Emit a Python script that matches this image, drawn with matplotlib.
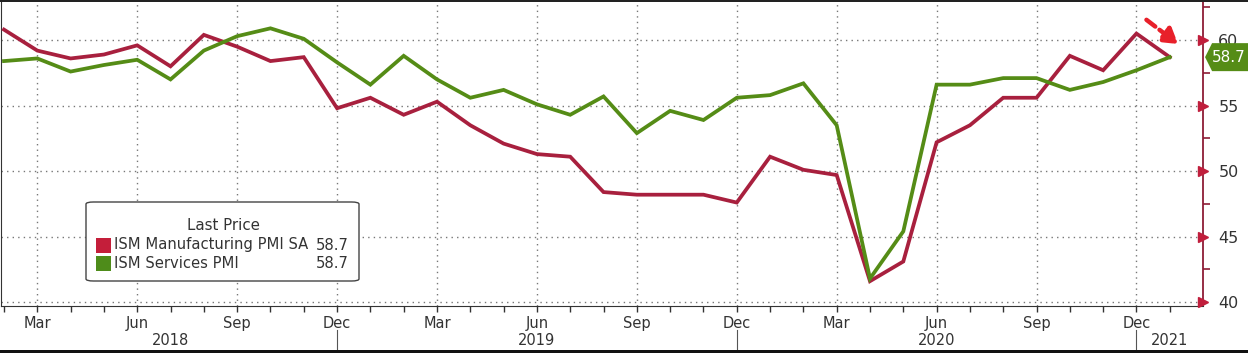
import matplotlib.pyplot as plt
import matplotlib.transforms as mtransforms
from matplotlib.patches import FancyBboxPatch, Rectangle, Polygon

# monthly data Feb 2018 .. Jan 2021
months = ["Feb", "Mar", "Apr", "May", "Jun", "Jul", "Aug", "Sep", "Oct", "Nov", "Dec", "Jan"] * 3
months = months[:36]
manufacturing = [60.8, 59.2, 58.6, 58.9, 59.6, 58.0, 60.4, 59.5, 58.4, 58.7, 54.8, 55.6,
                 54.3, 55.3, 53.5, 52.1, 51.3, 51.1, 48.4, 48.2, 48.2, 48.2, 47.6, 51.1,
                 50.1, 49.7, 41.6, 43.1, 52.2, 53.5, 55.6, 55.6, 58.8, 57.7, 60.5, 58.7]
services = [58.4, 58.6, 57.6, 58.1, 58.5, 57.0, 59.2, 60.3, 60.9, 60.1, 58.3, 56.6,
            58.8, 57.0, 55.6, 56.2, 55.1, 54.3, 55.7, 52.9, 54.6, 53.9, 55.6, 55.8,
            56.7, 53.5, 41.8, 45.4, 56.6, 56.6, 57.1, 57.1, 56.2, 56.8, 57.7, 58.7]
years = ["2018", "2019", "2020", "2021"]
year_label_pos = [5, 16, 28, 35]
year_breaks = [10, 22, 34]
yticks = [40, 45, 50, 55, 60]

red = "#A8203E"
green = "#558C16"
x = list(range(len(months)))

fig = plt.figure(figsize=(12.48, 3.53), dpi=100)
ax = fig.add_axes([0.0008, 0.133, 0.9632, 0.861])

ax.plot(x, manufacturing, color=red, lw=2.7, zorder=3, solid_joinstyle="miter")
ax.plot(x, services, color=green, lw=2.7, zorder=3, solid_joinstyle="miter")

ax.set_xlim(-0.09, 36.0)
ax.set_ylim(39.7, 62.9)

# x axis: monthly ticks, labels every quarter
lab_idx = [i for i, m in enumerate(months) if m in ("Mar", "Jun", "Sep", "Dec")]
ax.set_xticks(lab_idx)
ax.set_xticklabels([months[i] for i in lab_idx])
ax.set_xticks(x, minor=True)
ax.tick_params(axis="x", which="both", length=4, width=1, color="#333333",
               direction="out", labelsize=10.5, labelcolor="#333333", pad=3)

# y axis on right
ax.yaxis.tick_right()
ax.set_yticks(yticks)
ax.set_yticks([42.5, 47.5, 52.5, 57.5, 62.5], minor=True)
ax.tick_params(axis="y", which="major", length=0, labelsize=11.5, labelcolor="#333333", pad=11)
ax.tick_params(axis="y", which="minor", length=5, width=1.2, color="#8E1C36", direction="out")
ax.plot([1.0] * len(yticks), yticks, ls="none", marker=">", ms=7, color="#C01E3C",
        transform=ax.get_yaxis_transform(), clip_on=False, zorder=5)

ax.grid(True, which="major", color="#777777", linestyle=(0, (1, 3)), lw=1)

ax.spines["top"].set_visible(False)
ax.spines["right"].set_color("#8E1C36")
ax.spines["right"].set_linewidth(1.3)
ax.spines["bottom"].set_color("#333333")
ax.spines["left"].set_color("#333333")

# year labels and separators
for yl, pos in zip(years, year_label_pos):
    ax.text(pos, -0.112, yl, transform=ax.get_xaxis_transform(), ha="center", va="center",
            fontsize=10.5, color="#333333")
for b in year_breaks:
    ax.plot([b, b], [-0.079, -0.14], transform=ax.get_xaxis_transform(), color="#555555",
            lw=0.8, clip_on=False)

# last value tag (shape in inches, anchored at right edge / last value)
tag_trans = fig.dpi_scale_trans + mtransforms.ScaledTranslation(
    1.0, services[-1], ax.get_yaxis_transform())
tag = Polygon([(0.02, 0), (0.09, 0.14), (0.50, 0.14), (0.50, -0.14), (0.09, -0.14)],
              closed=True, fc=green, ec="none", transform=tag_trans, clip_on=False, zorder=6)
ax.add_patch(tag)
ax.text(0.085, 0.0, f"{services[-1]:.1f}", transform=tag_trans, ha="left", va="center",
        fontsize=11, color="white", zorder=7, clip_on=False)

# red arrow
ax.annotate("", xy=(35.25, 59.7), xytext=(34.3, 61.55),
            arrowprops=dict(arrowstyle="-|>,head_length=0.9,head_width=0.55",
                            color="#E8202A", lw=3.2, linestyle=(0, (2.5, 1.2)),
                            shrinkA=0, shrinkB=0), zorder=6)

# legend box
leg = FancyBboxPatch((86 / 1248, 1 - 281 / 353), 273 / 1248, 79 / 353,
                     boxstyle="round,pad=0,rounding_size=0.006", transform=fig.transFigure,
                     fc="white", ec="#444444", lw=1, zorder=10)
fig.patches.append(leg)
fig.text(223 / 1248, 1 - 225 / 353, "Last Price", ha="center", va="center", fontsize=10.8,
         color="#333333", zorder=11)
rows = [("ISM Manufacturing PMI SA", manufacturing[-1], "#C41E3A"),
        ("ISM Services PMI", services[-1], "#4E8C1A")]
for k, (name, val, col) in enumerate(rows):
    yy = 1 - (245 + 18 * k) / 353
    fig.patches.append(Rectangle((96 / 1248, yy - 7.5 / 353), 15 / 1248, 15 / 353,
                                 transform=fig.transFigure, fc=col, ec="none", zorder=11))
    fig.text(114 / 1248, yy, name, ha="left", va="center", fontsize=10.6, color="#333333", zorder=11)
    fig.text(349 / 1248, yy, f"{val:.1f}", ha="right", va="center", fontsize=10.6,
             color="#333333", zorder=11)

# screenshot borders
fig.patches.append(Rectangle((0, 1 - 2 / 353), 1, 2 / 353, transform=fig.transFigure,
                             fc="#222222", ec="none", zorder=20))
fig.patches.append(Rectangle((0, 0), 1, 3 / 353, transform=fig.transFigure,
                             fc="#111111", ec="none", zorder=20))

fig.savefig("out.png", dpi=100)
